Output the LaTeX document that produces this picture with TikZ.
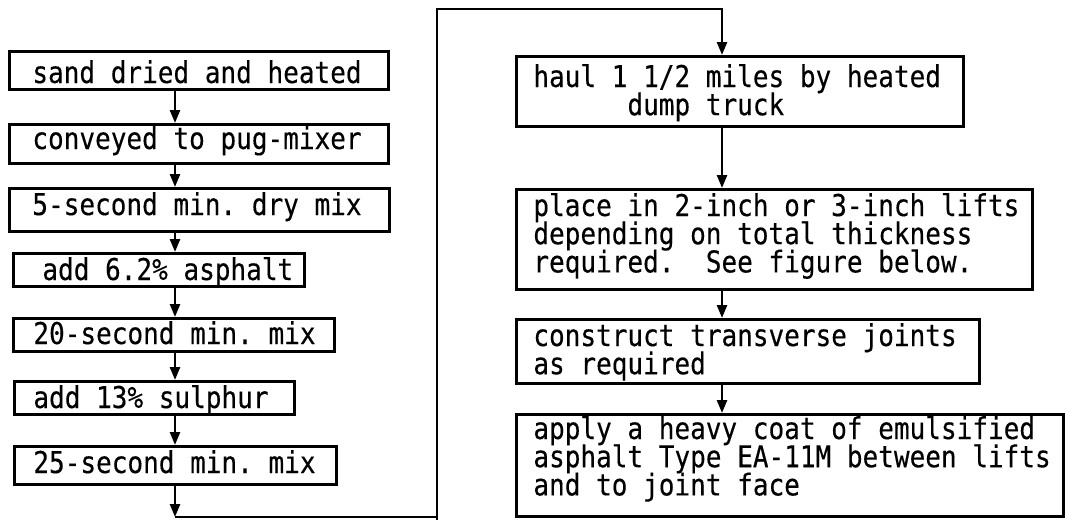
\documentclass[tikz,border=0pt]{standalone}
\usepackage{fontspec}
\usetikzlibrary{arrows.meta}
\newfontfamily\tw[FakeStretch=0.868,FakeBold=0.3]{DejaVu Sans Mono}
\newcommand\txtlines[1]{\vtop{\baselineskip=14.1pt\lineskiplimit=-1000pt\lineskip=0pt #1}}
\frenchspacing
\begin{document}
\begin{tikzpicture}[x=0.5pt,y=-0.5pt,
  box/.style={draw, line width=1.3pt, rectangle, inner sep=0pt, anchor=north west},
  txt/.style={anchor=base west, inner sep=0pt, font=\fontsize{15pt}{14.1pt}\tw},
  flow/.style={line width=1.3pt, -{Triangle[length=6.5pt,width=5pt]}},
  conn/.style={line width=1.3pt}]
\useasboundingbox (0,0) rectangle (1066,520);
% helper coordinates for connector columns
\coordinate (ax) at (175,0);
\coordinate (rx) at (722,0);
\coordinate (vx) at (437,0);
\coordinate (top) at (0,9);
\coordinate (bot) at (0,517);
% left column
\node[box, minimum width=189.5pt, minimum height=19pt] (b1) at (8,50) {};
\node[txt] (t1) at (32,83) {sand dried and heated};
\node[box, minimum width=189.5pt, minimum height=19.5pt] (b2) at (8,123) {};
\node[txt] (t2) at (32,149) {conveyed to pug-mixer};
\node[box, minimum width=190pt, minimum height=21.5pt] (b3) at (8,187) {};
\node[txt] (t3) at (32,215) {5-second min. dry mix};
\node[box, minimum width=145.5pt, minimum height=16.5pt] (b4) at (12,252) {};
\node[txt] (t4) at (42,280) {add 6.2\% asphalt};
\node[box, minimum width=160.5pt, minimum height=16.5pt] (b5) at (12,317) {};
\node[txt] (t5) at (33,344) {20-second min. mix};
\node[box, minimum width=140pt, minimum height=16.5pt] (b6) at (13,380) {};
\node[txt] (t6) at (33,408) {add 13\% sulphur};
\node[box, minimum width=161pt, minimum height=19pt] (b7) at (13,445) {};
\node[txt] (t7) at (33,473) {25-second min. mix};
% right column
\node[box, minimum width=223.5pt, minimum height=35pt] (bh) at (515,55) {};
\node[txt] (th) at (533,87) {\txtlines{\hbox{haul 1 1/2 miles by heated}\hbox{\phantom{xxxxxx}dump truck}}};
\node[box, minimum width=258pt, minimum height=50pt] (bp) at (515,188) {};
\node[txt] (tp) at (533,216) {\txtlines{\hbox{place in 2-inch or 3-inch lifts}\hbox{depending on total thickness}\hbox{required.\ \ See figure below.}}};
\node[box, minimum width=231.5pt, minimum height=32pt] (bc) at (515,318) {};
\node[txt] (tc) at (533,346) {\txtlines{\hbox{construct transverse joints}\hbox{as required}}};
\node[box, minimum width=273.5pt, minimum height=51pt] (ba) at (515,413) {};
\node[txt] (ta) at (533,439) {\txtlines{\hbox{apply a heavy coat of emulsified}\hbox{asphalt Type EA-11M between lifts}\hbox{and to joint face}}};
% connectors left
\draw[flow] (b1.south -| ax) -- (b2.north -| ax);
\draw[flow] (b2.south -| ax) -- (b3.north -| ax);
\draw[flow] (b3.south -| ax) -- (b4.north -| ax);
\draw[flow] (b4.south -| ax) -- (b5.north -| ax);
\draw[flow] (b5.south -| ax) -- (b6.north -| ax);
\draw[flow] (b6.south -| ax) -- (b7.north -| ax);
\draw[flow] (b7.south -| ax) -- (ax |- bot);
% loop to right column
\draw[flow] (ax |- bot) -- (vx |- bot) -- (vx |- top) -- (rx |- top) -- (bh.north -| rx);
\draw[conn] (vx |- bot) -- (vx |- 0,520);
% connectors right
\draw[flow] (bh.south -| rx) -- (bp.north -| rx);
\draw[flow] (bp.south -| rx) -- (bc.north -| rx);
\draw[flow] (bc.south -| rx) -- (ba.north -| rx);
\end{tikzpicture}
\end{document}
